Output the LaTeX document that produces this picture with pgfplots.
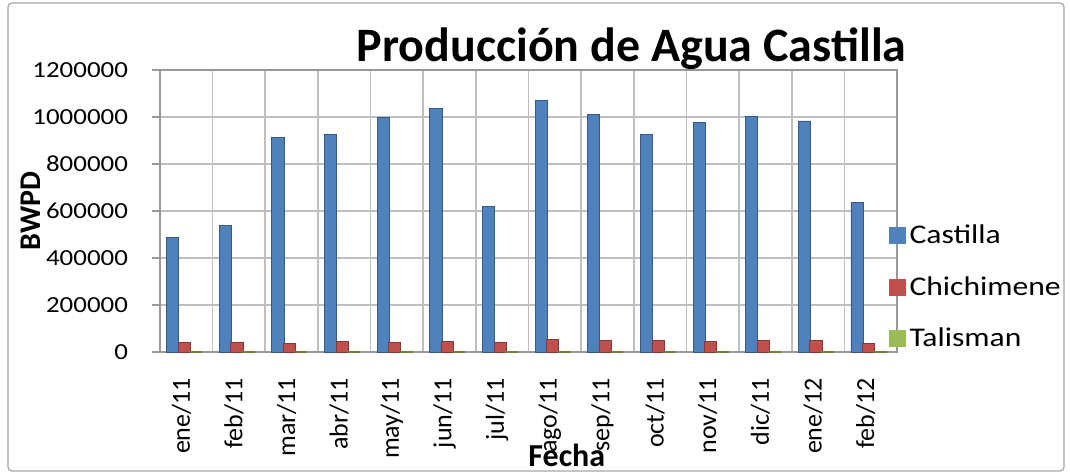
\documentclass[border=0pt]{standalone}
\usepackage{pgfplots}
\pgfplotsset{compat=1.18}
\usepackage{fontspec}
\setmainfont{Carlito}
\newfontfamily\wide[FakeStretch=1.17]{Carlito}
\definecolor{cBlue}{HTML}{4F81BD}
\definecolor{cRed}{HTML}{C0504D}
\definecolor{cGreen}{HTML}{9BBB59}
\definecolor{gridg}{HTML}{BFBFBF}
\begin{document}
\begin{tikzpicture}
\path[use as bounding box] (-80pt,-61.5pt) rectangle (455pt,176pt);
\draw[gray!70, line width=0.6pt, rounded corners=2pt] (-76pt,-59.5pt) rectangle (452pt,174.5pt);
\begin{axis}[
  at={(0pt,0pt)}, anchor=south west,
  scale only axis, width=368.5pt, height=141pt,
  xmin=-0.5, xmax=13.5, ymin=0, ymax=1200000,
  axis line style={gray!80, line width=0.8pt},
  xtick={0,...,13},
  xticklabels={ene/11,feb/11,mar/11,abr/11,may/11,jun/11,jul/11,ago/11,sep/11,oct/11,nov/11,dic/11,ene/12,feb/12},
  xticklabel style={xshift=-2.5pt, yshift=-5.5pt, rotate=90, anchor=east, font=\fontsize{13pt}{15pt}\selectfont},
  x tick style={draw=none},
  minor xtick={-0.5,0.5,...,13.5},
  xminorgrids=true,
  minor x grid style={gridg, line width=0.8pt},
  minor x tick style={draw=none},
  ytick={0,200000,...,1200000},
  ymajorgrids=true,
  major y grid style={gridg, line width=0.8pt},
  y tick style={gray!80, line width=0.8pt},
  tick align=outside, major tick length=4pt,
  ytick pos=left,
  scaled y ticks=false,
  yticklabel style={/pgf/number format/fixed, /pgf/number format/1000 sep={}, /pgf/number format/assume math mode=true, font=\wide\fontsize{11.5pt}{13pt}\selectfont, xshift=-8.5pt},
  title={Producción de Agua Castilla},
  title style={at={(axis description cs:0.640,1.032)}, anchor=center, font=\bfseries\fontsize{24pt}{28pt}\selectfont},
  ylabel={BWPD},
  ylabel style={at={(axis description cs:-0.176,0.50)}, anchor=center, font=\bfseries\fontsize{15pt}{17pt}\selectfont},
  xlabel={Fecha},
  xlabel style={at={(axis description cs:0.552,-0.365)}, anchor=center, font=\bfseries\fontsize{16pt}{18pt}\selectfont},
  legend style={at={(axis description cs:0.988,0.23)}, anchor=west, draw=none, fill=none,
    font=\wide\fontsize{13.5pt}{15pt}\selectfont, row sep=11pt, inner xsep=0pt, inner ysep=0pt},
  legend cell align=left,
  legend image code/.code={\fill[#1,draw=none] (0pt,-4.25pt) rectangle (8.5pt,4.25pt);},
  clip=false,
]
\addplot[ybar, bar width=0.23, bar shift=-0.26, fill=cBlue, draw=cBlue!70!black, line width=0.4pt] coordinates {
(0,488000) (1,540000) (2,913000) (3,924000) (4,998000) (5,1038000) (6,621000)
(7,1070000) (8,1009000) (9,927000) (10,977000) (11,1002000) (12,983000) (13,635000)};
\addlegendentry{Castilla}
\addplot[ybar, bar width=0.23, bar shift=-0.04, fill=cRed, draw=cRed!70!black, line width=0.4pt] coordinates {
(0,40500) (1,40500) (2,37600) (3,44800) (4,39000) (5,44800) (6,40500)
(7,52000) (8,50000) (9,48000) (10,43500) (11,48000) (12,48000) (13,37600)};
\addlegendentry{Chichimene}
\addplot[ybar, bar width=0.22, bar shift=0.18, fill=cGreen, draw=cGreen!70!black, line width=0.4pt] coordinates {
(0,3000) (1,3000) (2,3000) (3,3000) (4,3000) (5,3000) (6,3000)
(7,3000) (8,3000) (9,3000) (10,3000) (11,3000) (12,3000) (13,3000)};
\addlegendentry{Talisman}
\end{axis}
\end{tikzpicture}
\end{document}
